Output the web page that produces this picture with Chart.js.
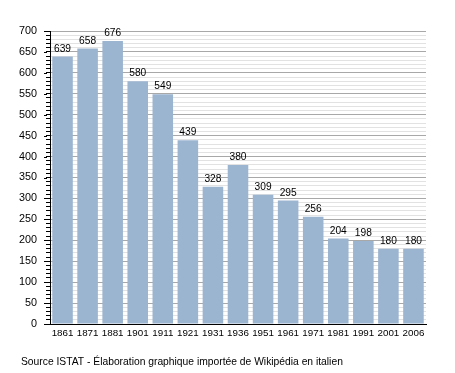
<!DOCTYPE html>
<html><head><meta charset="utf-8">
<script src="https://cdn.jsdelivr.net/npm/chart.js@4"></script>
<style>html,body{margin:0;padding:0;background:#fff}#w{width:455px;height:373px}</style>
</head><body><div id="w"><canvas id="c"></canvas></div>
<script>
const years = ['1861','1871','1881','1901','1911','1921','1931','1936','1951','1961','1971','1981','1991','2001','2006'];
const population = [639,658,676,580,549,439,328,380,309,295,256,204,198,180,180];
const sourceNote = 'Source ISTAT - Élaboration graphique importée de Wikipédia en italien';
const FONT = '"Liberation Sans", Arial, sans-serif';

const labelsPlugin = {
  id: 'vals',
  afterDatasetsDraw(chart) {
    const ctx = chart.ctx;
    const meta = chart.getDatasetMeta(0);
    ctx.save();
    ctx.font = '10.2px ' + FONT;
    ctx.fillStyle = '#000';
    ctx.textAlign = 'center';
    ctx.textBaseline = 'alphabetic';
    meta.data.forEach((b, i) => ctx.fillText(String(population[i]), b.x, b.y - 5));
    // longer marks for major ticks
    const ys = chart.scales.y;
    ctx.strokeStyle = '#000';
    ctx.lineWidth = 1;
    ys.ticks.forEach(t => {
      if (t.value % 50 === 0) {
        const py = Math.round(ys.getPixelForValue(t.value)) + 0.5;
        ctx.beginPath();
        ctx.moveTo(ys.right - 6, py);
        ctx.lineTo(ys.right - 3, py);
        ctx.stroke();
      }
    });
    ctx.textAlign = 'left';
    ctx.fillStyle = '#000';
    ctx.font = '10.3px ' + FONT;
    ctx.fillText(sourceNote, 21, 365);
    ctx.restore();
  }
};

new Chart(document.getElementById('c'), {
  type: 'bar',
  data: { labels: years, datasets: [{ data: population, backgroundColor: '#9bb4d0', borderWidth: 0, barPercentage: 0.82, categoryPercentage: 1 }] },
  options: {
    responsive: true, maintainAspectRatio: false, animation: false,
    layout: { padding: { top: 31, right: 29, bottom: 0, left: 0 } },
    plugins: { legend: { display: false }, tooltip: { enabled: false } },
    scales: {
      x: {
        grid: { display: false, drawTicks: false },
        border: { color: '#000', width: 1 },
        ticks: { color: '#000', font: { family: FONT, size: 9.8 }, padding: 3, autoSkip: false, maxRotation: 0 },
        afterFit: s => { s.height = 49; }
      },
      y: {
        min: 0, max: 700,
        border: { color: '#000', width: 1 },
        grid: {
          color: c => (c.tick && c.tick.value % 50 === 0) ? '#a8a8a8' : '#e2e2e2',
          tickColor: '#000', tickLength: 4
        },
        ticks: {
          stepSize: 10, maxTicksLimit: 1000, autoSkip: false, color: '#000', padding: 9,
          font: { family: FONT, size: 10.8 },
          callback: v => (v % 50 === 0 ? String(v) : '')
        },
        afterFit: s => { s.width = 50; }
      }
    }
  },
  plugins: [labelsPlugin]
});
</script></body></html>
